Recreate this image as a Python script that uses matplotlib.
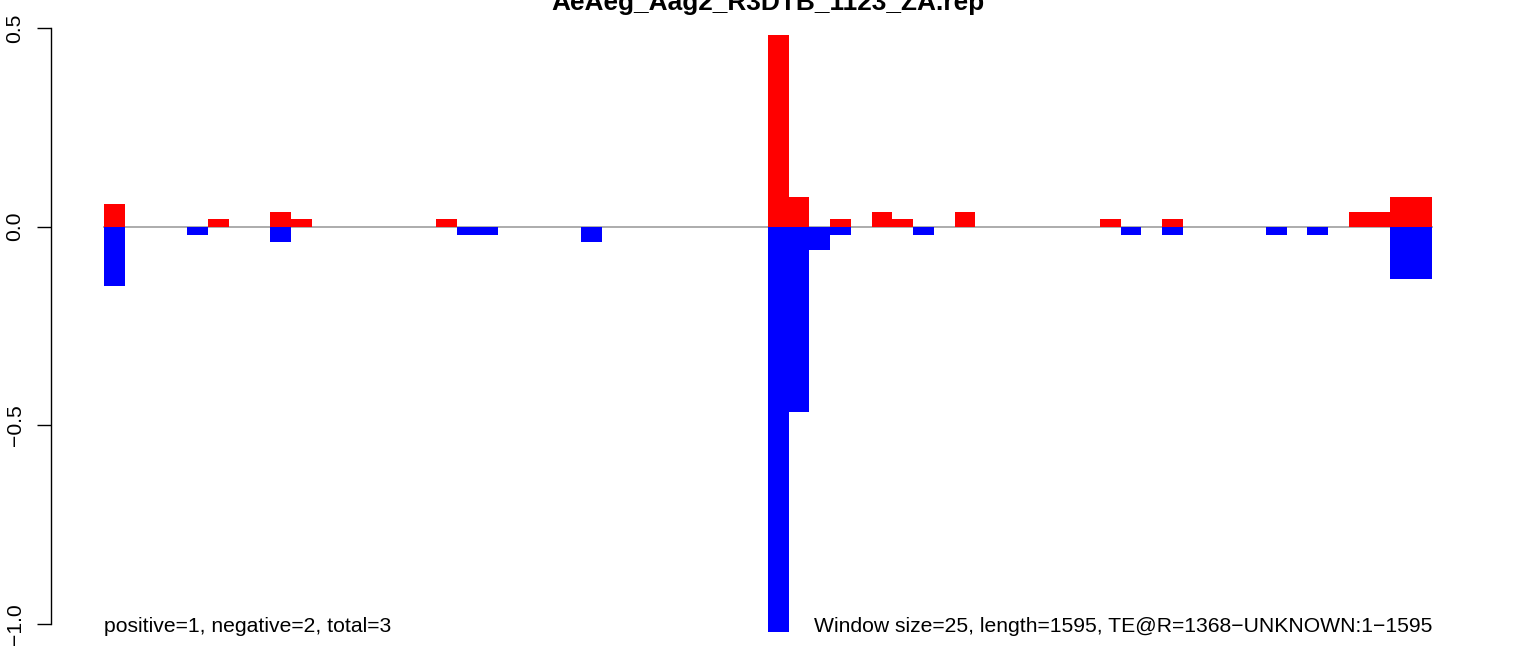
import matplotlib.pyplot as plt
import numpy as np

plt.rcParams.update({
    'font.family': ['Liberation Sans', 'DejaVu Sans'],
    'axes.unicode_minus': True,
})

title = 'AeAeg_Aag2_R3DTB_1123_ZA.rep'
window = 25
length = 1595
counts = 'positive=1, negative=2, total=3'
te_info = 'TE@R=1368\u2212UNKNOWN:1\u2212' + str(length)

# one value per 25-bp window (64 windows)
pos = [0.057, 0, 0, 0, 0, 0.020, 0, 0,
       0.038, 0.020, 0, 0, 0, 0, 0, 0,
       0.020, 0, 0, 0, 0, 0, 0, 0,
       0, 0, 0, 0, 0, 0, 0, 0,
       0.483, 0.075, 0, 0.020, 0, 0.038, 0.020, 0,
       0, 0.038, 0, 0, 0, 0, 0, 0,
       0.020, 0, 0, 0.020, 0, 0, 0, 0,
       0, 0, 0, 0, 0.038, 0.038, 0.075, 0.075]
neg = [-0.149, 0, 0, 0, -0.020, 0, 0, 0,
       -0.038, 0, 0, 0, 0, 0, 0, 0,
       0, -0.020, -0.020, 0, 0, 0, 0, -0.038,
       0, 0, 0, 0, 0, 0, 0, 0,
       -1.022, -0.467, -0.059, -0.020, 0, 0, 0, -0.020,
       0, 0, 0, 0, 0, 0, 0, 0,
       0, -0.020, 0, -0.020, 0, 0, 0, 0,
       -0.020, 0, -0.020, 0, 0, 0, -0.131, -0.131]

yticks = [-1.0, -0.5, 0.0, 0.5]
ytick_labels = ['\u22121.0', '\u22120.5', '0.0', '0.5']

W, H = 1536, 646
fig = plt.figure(figsize=(W / 100, H / 100), dpi=100)
ax = fig.add_axes([51 / W, 0, 1434 / W, 1])

x = np.arange(len(pos)) * window
end = len(pos) * window
ax.plot([0, end], [0, 0], color='#a6a6a6', lw=1.3, zorder=1)
ax.bar(x, pos, width=window, align='edge', color='#ff0000', lw=0, zorder=2)
ax.bar(x, neg, width=window, align='edge', color='#0000ff', lw=0, zorder=2)

ax.set_xlim(-64, 1664)
ax.set_ylim(-(H - 226.7) / 397, 226.7 / 397)

ax.text(0, min(neg), counts, ha='left', va='baseline', fontsize=15.2)
ax.text(end, min(neg), f'Window size={window}, length={length}, {te_info}',
        ha='right', va='baseline', fontsize=15.2)
fig.text(768 / W, 1 - 10 / H, title, ha='center', va='baseline',
         fontsize=18.9, fontweight='bold')

for s in ['top', 'right', 'bottom']:
    ax.spines[s].set_visible(False)
ax.spines['left'].set_bounds(-1.0, 0.5)
ax.spines['left'].set_linewidth(1.0)
ax.set_xticks([])
ax.set_yticks(yticks)
ax.set_yticklabels(ytick_labels, rotation=90, va='center')
ax.tick_params(axis='y', length=10, width=1.0, pad=9, labelsize=15.2)

fig.savefig('out.png', dpi=100)
